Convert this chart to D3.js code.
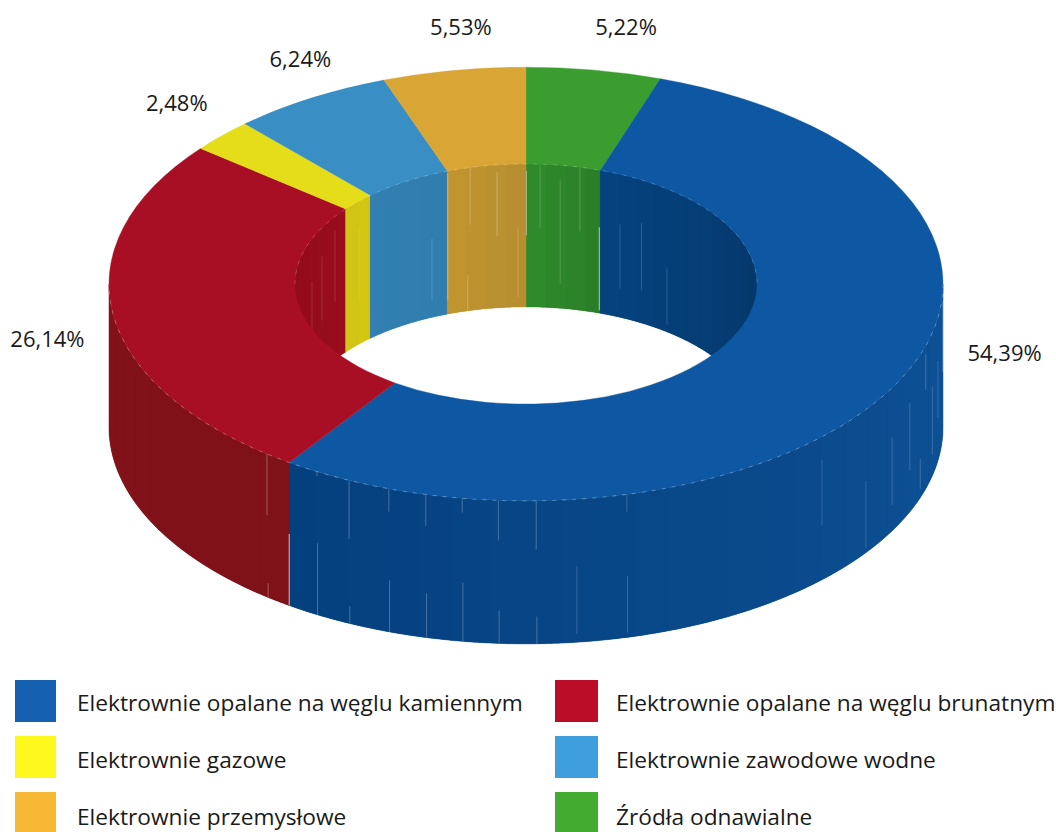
<!DOCTYPE html>
<html lang="pl">
<head>
<meta charset="utf-8">
<script src="https://d3js.org/d3.v7.min.js"></script>
<style>
html,body{margin:0;padding:0;background:#fff;overflow:hidden}
svg{display:block}
text{font-family:"Open Sans",sans-serif;fill:#1a1a1a}
</style>
</head>
<body>
<svg id="chart" width="1056" height="832"></svg>
<script>
// ---- data (in drawing order, clockwise from 12 o'clock) ----
const categories = ["Źródła odnawialne","Elektrownie opalane na węglu kamiennym","Elektrownie opalane na węglu brunatnym","Elektrownie gazowe","Elektrownie zawodowe wodne","Elektrownie przemysłowe"];
const shares = [5.22,54.39,26.14,2.48,6.24,5.53];
const shareLabels = ["5,22%","54,39%","26,14%","2,48%","6,24%","5,53%"];
const legendOrder = [1,2,3,4,5,0];

// ---- colours ----
const legendColors = ["#43ab2f","#1560b0","#bb0d27","#fff81f","#3f9fdc","#f7b935"];
const topColors = ["#3b9c2f","#0e58a3","#a80f24","#e5dd1a","#398ec4","#d9a636"];
const outerWallFrom = ["#2e8a2a","#0e5297","#7f1119","#bdb415","#2f7bad","#b98f30"];
const outerWallTo = ["#2e8a2a","#05407e","#82121a","#bdb415","#2f7bad","#b98f30"];
const innerWallFrom = ["#2e8c2a","#05427f","#8f0c1b","#cfc314","#327fb2","#c1952f"];
const innerWallTo = ["#2b7e28","#053768","#990d1d","#d4c814","#307daf","#b68e30"];

// ---- wall seams: angle in degrees, then start/end as share of wall height, then strength ----
const outerSeams = [[218.4,0,.43,.3],[218.2,.9,1,.3],[214.6,.5,1,.7],[210.1,0,.03,.25],[210,.5,1,.25],[205.1,0,.41,.25],[205,.88,1,.25],
 [199.2,0,.16,.25],[199.1,.64,1,.25],[193.9,0,.22,.25],[193.8,.69,1,.25],[188.8,0,.1,.25],[188.7,.59,1,.25],[183.8,0,.28,.25],[183.7,.77,1,.25],
 [178.6,0,.34,.25],[178.5,.81,1,.25],[173,.47,.94,.18],[166,0,.12,.2],[165.9,.57,.97,.2],[134.8,.16,.62,.16],[125.4,.5,.97,.16],
 [118.6,.35,.82,.18],[113,.24,.71,.2],[109,.73,.94,.18],[106.5,.06,.31,.2],[103,.38,.85,.18],[99,.3,.7,.16],[90.6,.1,.6,.35]];
const innerSeams = [[-14,0,.4,.25],[-14.6,.75,1,.25],[-7.2,.05,.5,.25],[-2,.45,.93,.2],[3.5,0,.45,.2],[8.5,.1,.83,.16],[13.5,0,.45,.2],
 [24,.35,.8,.16],[30,.3,.77,.16],[37.6,.55,.95,.16],[-24,.45,.88,.16],[-46.3,.2,.7,.1],[-67.9,.3,.75,.12],[-62,.2,.65,.12],[-55.8,.1,.6,.12],
 [18.5,.4,.98,.6],[-19.8,.02,.9,.3],[0.1,.05,.5,.45]];

// ---- layout ----
const W = 1056, H = 832;
const cx = 526, cy = 284, rOuter = 417, rInner = 231, tilt = 0.52, depth = 143, facetDeg = 5;
const labelOffsets = [[32,-35],[106,-20],[-66,32],[-45,-25],[-10,-31],[7,-35]];
const legendCols = [15,555], legendRows = [680,736,792], swatchW = [41,43], swatchH = 42;
const legendTextX = [77,616], legendTextY = [711,768,825];

const rad = d => d * Math.PI / 180;
const px = (r,a) => cx + r * Math.sin(a);
const py = (r,a) => cy - r * tilt * Math.cos(a);

const svg = d3.select("#chart");
const slices = d3.pie().sort(null).value(d => d).startAngle(0).endAngle(2*Math.PI)(shares);

// wall between an ellipse edge and the same edge shifted down by the depth
const wall = r => d3.area().x(a => px(r,a)).y0(a => py(r,a)).y1(a => py(r,a)+depth).curve(d3.curveLinear);
const steps = (a0,a1) => {
  const n = Math.max(2, Math.ceil((a1-a0)/rad(0.5)));
  return d3.range(n+1).map(i => a0 + (a1-a0)*i/n);
};
function facets(a0,a1){
  const out = [], step = rad(facetDeg);
  let a = a0;
  while (a < a1 - 1e-6){ const b = Math.min(a + step, a1); out.push([a,b]); a = b; }
  return out;
}
function drawWall(g,r,lo,hi,from,to){
  const shade = d3.scaleLinear().domain([lo,hi]).range([from,to]).interpolate(d3.interpolateRgb);
  // solid underlay so neighbouring facets leave no hairlines
  g.append("path").attr("d",wall(r)(steps(lo,hi)))
    .attr("fill",shade((lo+hi)/2)).attr("stroke",shade((lo+hi)/2)).attr("stroke-width",0.5);
  g.selectAll(null).data(facets(lo,hi)).join("path")
    .attr("d", f => wall(r)(steps(f[0],f[1])))
    .attr("fill", f => shade((f[0]+f[1])/2));
}

// ---- inner walls (far side of the hole) ----
const gInner = svg.append("g");
slices.forEach((s,i) => {
  const ranges = [[s.startAngle,s.endAngle],[s.startAngle-2*Math.PI,s.endAngle-2*Math.PI]];
  ranges.forEach(([a0,a1]) => {
    const lo = Math.max(a0,-Math.PI/2), hi = Math.min(a1,Math.PI/2);
    if (hi > lo) drawWall(gInner,rInner,lo,hi,innerWallFrom[i],innerWallTo[i]);
  });
});
gInner.selectAll("line").data(innerSeams).join("line")
  .attr("x1", d => px(rInner,rad(d[0]))).attr("x2", d => px(rInner,rad(d[0])))
  .attr("y1", d => py(rInner,rad(d[0]))+depth*d[1]).attr("y2", d => py(rInner,rad(d[0]))+depth*d[2])
  .attr("stroke","#fff").attr("stroke-width",1).attr("stroke-opacity", d => d[3]);

// ---- outer walls (near side) ----
const gOuter = svg.append("g");
slices.forEach((s,i) => {
  const lo = Math.max(s.startAngle,Math.PI/2), hi = Math.min(s.endAngle,3*Math.PI/2);
  if (hi > lo) drawWall(gOuter,rOuter,lo,hi,outerWallFrom[i],outerWallTo[i]);
});
gOuter.selectAll("line").data(outerSeams).join("line")
  .attr("x1", d => px(rOuter,rad(d[0]))).attr("x2", d => px(rOuter,rad(d[0])))
  .attr("y1", d => py(rOuter,rad(d[0]))+depth*d[1]).attr("y2", d => py(rOuter,rad(d[0]))+depth*d[2])
  .attr("stroke","#fff").attr("stroke-width",1).attr("stroke-opacity", d => d[3]);

// ---- top face ----
const arc = d3.arc().innerRadius(rInner).outerRadius(rOuter);
svg.append("g").attr("transform",`translate(${cx},${cy}) scale(1,${tilt})`)
  .selectAll("path").data(slices).join("path")
  .attr("d",arc)
  .attr("fill",(d,i) => topColors[i])
  .attr("stroke",(d,i) => topColors[i])
  .attr("stroke-width",0.5);

// dashed highlights along the near outer rim and the far inner rim
const rim = d3.line().x(d => d[0]).y(d => d[1]);
svg.append("path")
  .attr("d", rim(steps(rad(90),rad(270)).map(a => [px(rOuter,a),py(rOuter,a)])))
  .attr("fill","none").attr("stroke","#fff").attr("stroke-opacity",.3).attr("stroke-width",1).attr("stroke-dasharray","4 6");
svg.append("path")
  .attr("d", rim(steps(rad(-90),rad(90)).map(a => [px(rInner,a),py(rInner,a)])))
  .attr("fill","none").attr("stroke","#fff").attr("stroke-opacity",.2).attr("stroke-width",1).attr("stroke-dasharray","4 6");

// ---- percentage labels ----
svg.append("g").selectAll("text").data(slices).join("text")
  .attr("x",(d,i) => px(rOuter,(d.startAngle+d.endAngle)/2)+labelOffsets[i][0])
  .attr("y",(d,i) => py(rOuter,(d.startAngle+d.endAngle)/2)+labelOffsets[i][1])
  .attr("text-anchor","middle").attr("font-size",22)
  .text((d,i) => shareLabels[i]);

// ---- legend ----
const legend = svg.append("g").selectAll("g").data(legendOrder).join("g");
legend.append("rect")
  .attr("x",(d,i) => legendCols[i%2]).attr("y",(d,i) => legendRows[Math.floor(i/2)])
  .attr("width",(d,i) => swatchW[i%2]).attr("height",swatchH)
  .attr("fill",d => legendColors[d]);
legend.append("text")
  .attr("x",(d,i) => legendTextX[i%2]).attr("y",(d,i) => legendTextY[Math.floor(i/2)])
  .attr("font-size",22.7)
  .text(d => categories[d]);
</script>
</body>
</html>
